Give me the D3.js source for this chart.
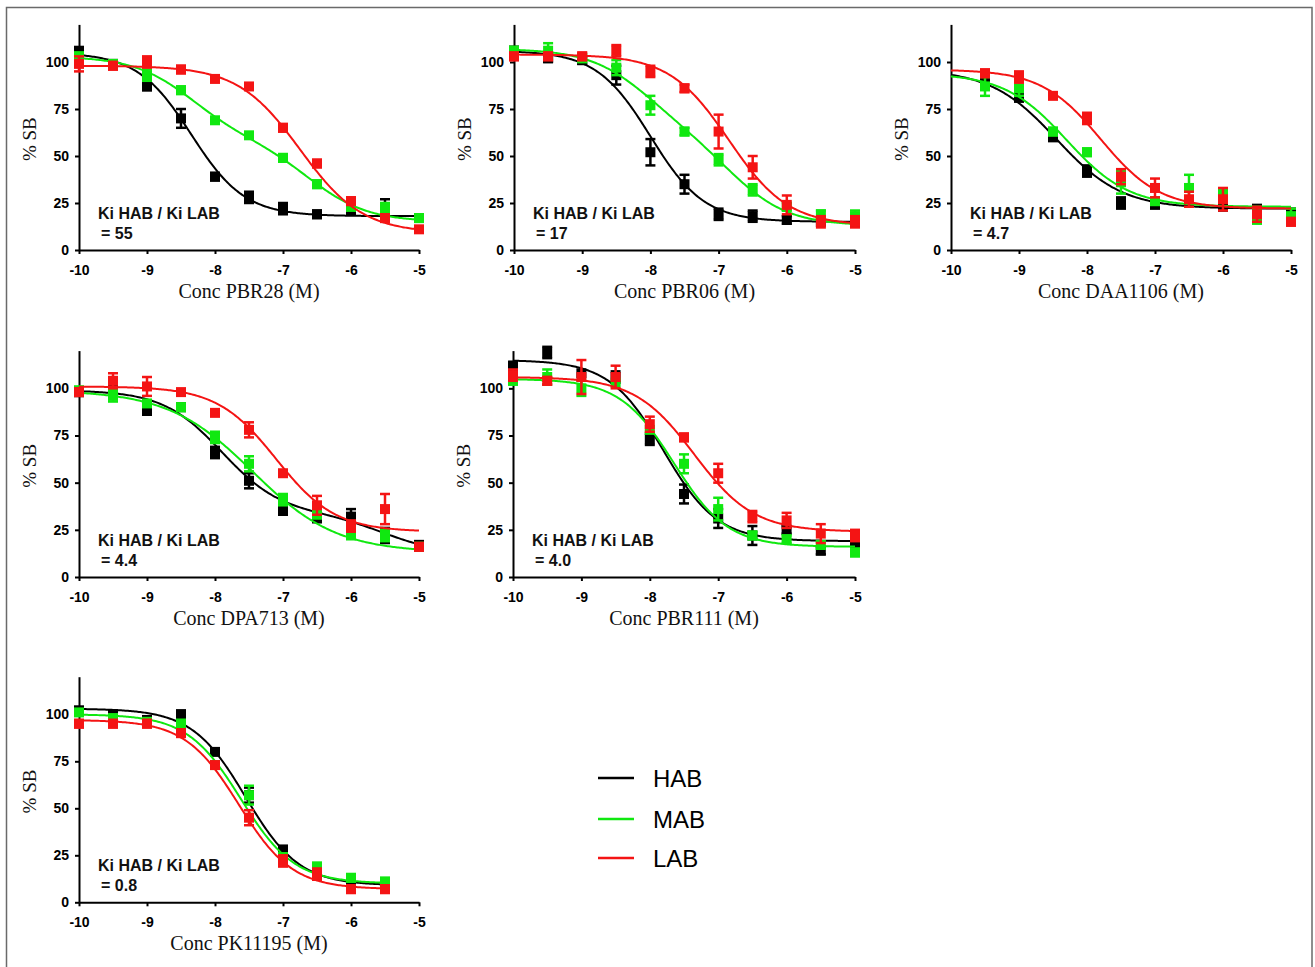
<!DOCTYPE html>
<html>
<head>
<meta charset="utf-8">
<script src="https://cdn.jsdelivr.net/npm/d3@7"></script>
<style>
  html, body { margin: 0; padding: 0; background: #fff; }
  svg { display: block; }
  .tick text { font-family: "Liberation Sans", Arial, sans-serif; font-weight: bold; font-size: 14px; fill: #000; }
</style>
</head>
<body>
<svg id="chart" width="1315" height="967"></svg>
<script>
// log10 molar concentrations of the competing ligand
const logConc = [-10, -9.5, -9, -8.5, -8, -7.5, -7, -6.5, -6, -5.5, -5];

const drugs = ["PBR28", "PBR06", "DAA1106", "DPA713", "PBR111", "PK11195"];
const kiRatios = ["55", "17", "4.7", "4.4", "4.0", "0.8"];
const groups = ["HAB", "MAB", "LAB"];
const yTicks = [0, 25, 50, 75, 100];
const xTicks = [-10, -9, -8, -7, -6, -5];

// mean % specific binding per drug (rows) and concentration (columns)
const habMean = [
  [105, 99, 87, 70, 39, 28, 22, 19, 21, 21, 17],
  [106, 102, 101, 93, 52, 35, 19, 18, 16, 15, 15],
  [null, 89, 81, 60, 42, 25, 24, 26, 23, 22, 20],
  [98, 99, 89, 90, 66, 51, 36, 32, 32, 22, 17],
  [112, 119, 108, 106, 73, 44, 31, 22, 25, 14, 17],
  [102, 100, 97, 100, 80, 57, 28, 14, 11, 10, null]
];
const habErr = [
  [3, 0, 2, 5, 2, 3, 3, 2, 2, 6, 0],
  [2, 2, 2, 5, 7, 5, 3, 3, 2, 0, 0],
  [0, 0, 2, 2, 3, 3, 0, 0, 0, 0, 0],
  [2, 2, 3, 0, 3, 4, 3, 3, 4, 4, 2],
  [2, 3, 0, 3, 3, 5, 5, 5, 2, 2, 2],
  [2, 0, 0, 2, 1, 4, 2, 1, 0, 0, 0]
];
const mabMean = [
  [103, 99, 93, 85, 69, 61, 49, 35, 23, 22, 17],
  [106, 106, 102, 97, 77, 63, 48, 32, 23, 19, 18],
  [null, 87, 86, 63, 52, 36, 26, 33, 29, 18, 18],
  [99, 96, 92, 90, 74, 60, 41, 33, 23, 22, 16],
  [104, 106, 100, 103, 78, 60, 36, 22, 20, 17, 13],
  [101, 98, 96, 95, 73, 57, 24, 19, 13, 11, null]
];
const mabErr = [
  [2, 0, 3, 2, 1, 1, 2, 2, 2, 3, 2],
  [2, 4, 2, 4, 5, 2, 3, 3, 2, 2, 3],
  [0, 5, 4, 2, 2, 6, 2, 7, 3, 4, 4],
  [1, 3, 0, 2, 3, 4, 3, 0, 3, 3, 2],
  [2, 4, 4, 0, 0, 5, 6, 2, 2, 2, 2],
  [1, 1, 1, 2, 1, 5, 2, 2, 2, 2, 0]
];
const labMean = [
  [99, 98, 100, 96, 91, 87, 65, 46, 26, 17, 11],
  [103, 103, 103, 106, 95, 86, 63, 44, 24, 15, 15],
  [null, 94, 92, 82, 70, 39, 33, 27, 27, 19, 15],
  [98, 104, 101, 98, 87, 78, 55, 38, 27, 36, 16],
  [107, 104, 106, 106, 81, 74, 55, 32, 30, 23, 22],
  [95, 95, 95, 90, 73, 45, 22, 15, 7, 7, null]
];
const labErr = [
  [4, 2, 3, 2, 1, 1, 2, 2, 2, 2, 1],
  [2, 2, 2, 3, 3, 2, 9, 6, 5, 3, 3],
  [0, 2, 3, 1, 3, 4, 5, 4, 6, 4, 2],
  [2, 4, 5, 1, 1, 4, 1, 5, 3, 8, 2],
  [3, 2, 9, 6, 4, 2, 5, 3, 4, 5, 3],
  [2, 2, 2, 2, 1, 4, 3, 3, 2, 2, 0]
];

// competition fit parameters: [top, bottom, logIC50 site 1, logIC50 site 2, fraction site 1, Hill slope]
const habFit = [
  [105, 18, -8.35, -8.35, 1, 1.1],
  [106, 15, -8.0, -8.0, 1, 1.1],
  [96, 22, -8.45, -8.45, 1, 0.9],
  [99, 12, -7.9, -5.5, 0.75, 1.0],
  [115, 19, -7.8, -7.8, 1, 1.1],
  [103, 9, -7.55, -7.55, 1, 1.1]
];
const mabFit = [
  [103, 15, -8.35, -6.6, 0.5, 1.0],
  [107, 13, -8.1, -6.8, 0.45, 1.0],
  [94, 23, -8.3, -8.3, 1, 0.95],
  [99, 13, -7.45, -7.45, 1, 0.7],
  [105, 16, -7.65, -7.65, 1, 1.1],
  [100, 10, -7.62, -7.62, 1, 1.1]
];
const labFit = [
  [98, 9, -6.75, -6.75, 1, 0.95],
  [104, 13, -6.85, -6.85, 1, 1.0],
  [96, 22, -7.8, -7.8, 1, 1.0],
  [101, 24, -7.1, -7.1, 1, 1.0],
  [106, 24, -7.35, -7.35, 1, 1.0],
  [97, 7, -7.65, -7.65, 1, 1.1]
];
// last concentration covered by each fitted curve
const fitEnd = [-5, -5, -5, -5, -5, -5.5];

const colors = { HAB: "#000000", MAB: "#10e810", LAB: "#f41414" };
const series = [
  { name: "HAB", mean: habMean, err: habErr, fit: habFit },
  { name: "MAB", mean: mabMean, err: mabErr, fit: mabFit },
  { name: "LAB", mean: labMean, err: labErr, fit: labFit }
];

function binding(p, x) {
  const [top, bottom, ic1, ic2, frac, hill] = p;
  const s1 = 1 / (1 + Math.pow(10, (x - ic1) * hill));
  const s2 = 1 / (1 + Math.pow(10, (x - ic2) * hill));
  return bottom + (top - bottom) * (frac * s1 + (1 - frac) * s2);
}

const svg = d3.select("#chart");

// outer frame
svg.append("rect")
  .attr("x", 6.5).attr("y", 7.5)
  .attr("width", 1305.5).attr("height", 1000)
  .attr("fill", "none").attr("stroke", "#6a6a6a").attr("stroke-width", 1.5);

// panel placement: left edge of x axis, right edge, baseline (y = 0), top (y = 120)
const layout = [
  { x0: 79, x1: 419, y0: 250, y1: 24.4 },
  { x0: 514, x1: 855, y0: 250, y1: 24.4 },
  { x0: 951, x1: 1291, y0: 250, y1: 24.4 },
  { x0: 79, x1: 419, y0: 577, y1: 350.6 },
  { x0: 513, x1: 855, y0: 577, y1: 350.6 },
  { x0: 79, x1: 419, y0: 902.3, y1: 676.7 }
];

drugs.forEach((drug, i) => {
  const L = layout[i];
  const x = d3.scaleLinear().domain([-10, -5]).range([L.x0, L.x1]);
  const y = d3.scaleLinear().domain([0, 120]).range([L.y0, L.y1]);
  const g = svg.append("g");

  // axes
  const ax = g.append("g").attr("transform", `translate(0,${L.y0})`)
    .call(d3.axisBottom(x).tickValues(xTicks).tickSize(4).tickSizeOuter(0).tickPadding(11)
      .tickFormat(d3.format("d")));
  const ay = g.append("g").attr("transform", `translate(${L.x0},0)`)
    .call(d3.axisLeft(y).tickValues(yTicks).tickSize(4).tickSizeOuter(0).tickPadding(6));
  [ax, ay].forEach(a => {
    a.select(".domain").attr("stroke", "#000").attr("stroke-width", 2);
    a.selectAll(".tick line").attr("stroke", "#000").attr("stroke-width", 2);
  });
  ax.selectAll(".tick text").text(d => d3.format("d")(d).replace("−", "-"));

  // axis titles
  g.append("text")
    .attr("x", (L.x0 + L.x1) / 2).attr("y", L.y0 + 48)
    .attr("text-anchor", "middle")
    .style("font-family", "'Liberation Serif', 'Times New Roman', serif")
    .style("font-size", "20px").style("fill", "#111")
    .text(`Conc ${drug} (M)`);
  g.append("text")
    .attr("transform", `translate(${L.x0 - 43},${(L.y0 + L.y1) / 2 + 2}) rotate(-90)`)
    .attr("text-anchor", "middle")
    .style("font-family", "'Liberation Serif', 'Times New Roman', serif")
    .style("font-size", "19px").style("fill", "#111")
    .text("% SB");

  // Ki ratio annotation
  const note = g.append("text")
    .style("font-family", "'Liberation Sans', Arial, sans-serif")
    .style("font-weight", "bold").style("font-size", "16px").style("fill", "#111");
  note.append("tspan").attr("x", L.x0 + 19).attr("y", L.y0 - 31).text("Ki HAB / Ki LAB");
  note.append("tspan").attr("x", L.x0 + 22).attr("y", L.y0 - 11).text(`= ${kiRatios[i]}`);

  const clip = `clip-${i}`;
  g.append("clipPath").attr("id", clip).append("rect")
    .attr("x", L.x0 - 20).attr("y", L.y1 - 2).attr("width", L.x1 - L.x0 + 40).attr("height", L.y0 - L.y1 + 20);

  series.forEach(s => {
    const c = colors[s.name];
    const pts = logConc.map((lc, j) => ({ lc, v: s.mean[i][j], e: s.err[i][j] })).filter(d => d.v !== null);

    // error bars
    const eb = g.append("g").attr("stroke", c).attr("stroke-width", 2.5);
    pts.filter(d => d.e > 0).forEach(d => {
      const cx = x(d.lc);
      eb.append("line").attr("x1", cx).attr("x2", cx).attr("y1", y(d.v - d.e)).attr("y2", y(d.v + d.e));
      [d.v - d.e, d.v + d.e].forEach(v => {
        eb.append("line").attr("x1", cx - 5).attr("x2", cx + 5).attr("y1", y(v)).attr("y2", y(v));
      });
    });

    // fitted curve
    const xs = d3.range(-10, fitEnd[i] + 0.001, 0.02);
    g.append("path")
      .datum(xs)
      .attr("clip-path", `url(#${clip})`)
      .attr("fill", "none").attr("stroke", c).attr("stroke-width", 2)
      .attr("d", d3.line().x(v => x(v)).y(v => y(binding(s.fit[i], v))));

    // markers
    g.append("g").selectAll("rect").data(pts).join("rect")
      .attr("x", d => x(d.lc) - 5).attr("y", d => y(d.v) - 5)
      .attr("width", 10).attr("height", 10)
      .attr("fill", c);
  });
});

// legend
const legend = svg.append("g");
groups.forEach((name, k) => {
  const ly = [778, 819, 858][k];
  legend.append("line")
    .attr("x1", 598).attr("x2", 634).attr("y1", ly).attr("y2", ly)
    .attr("stroke", colors[name]).attr("stroke-width", 2.5);
  legend.append("text")
    .attr("x", 653).attr("y", ly + 9)
    .style("font-family", "'Liberation Sans', Arial, sans-serif")
    .style("font-size", "24px").style("fill", "#000")
    .text(name);
});
</script>
</body>
</html>
